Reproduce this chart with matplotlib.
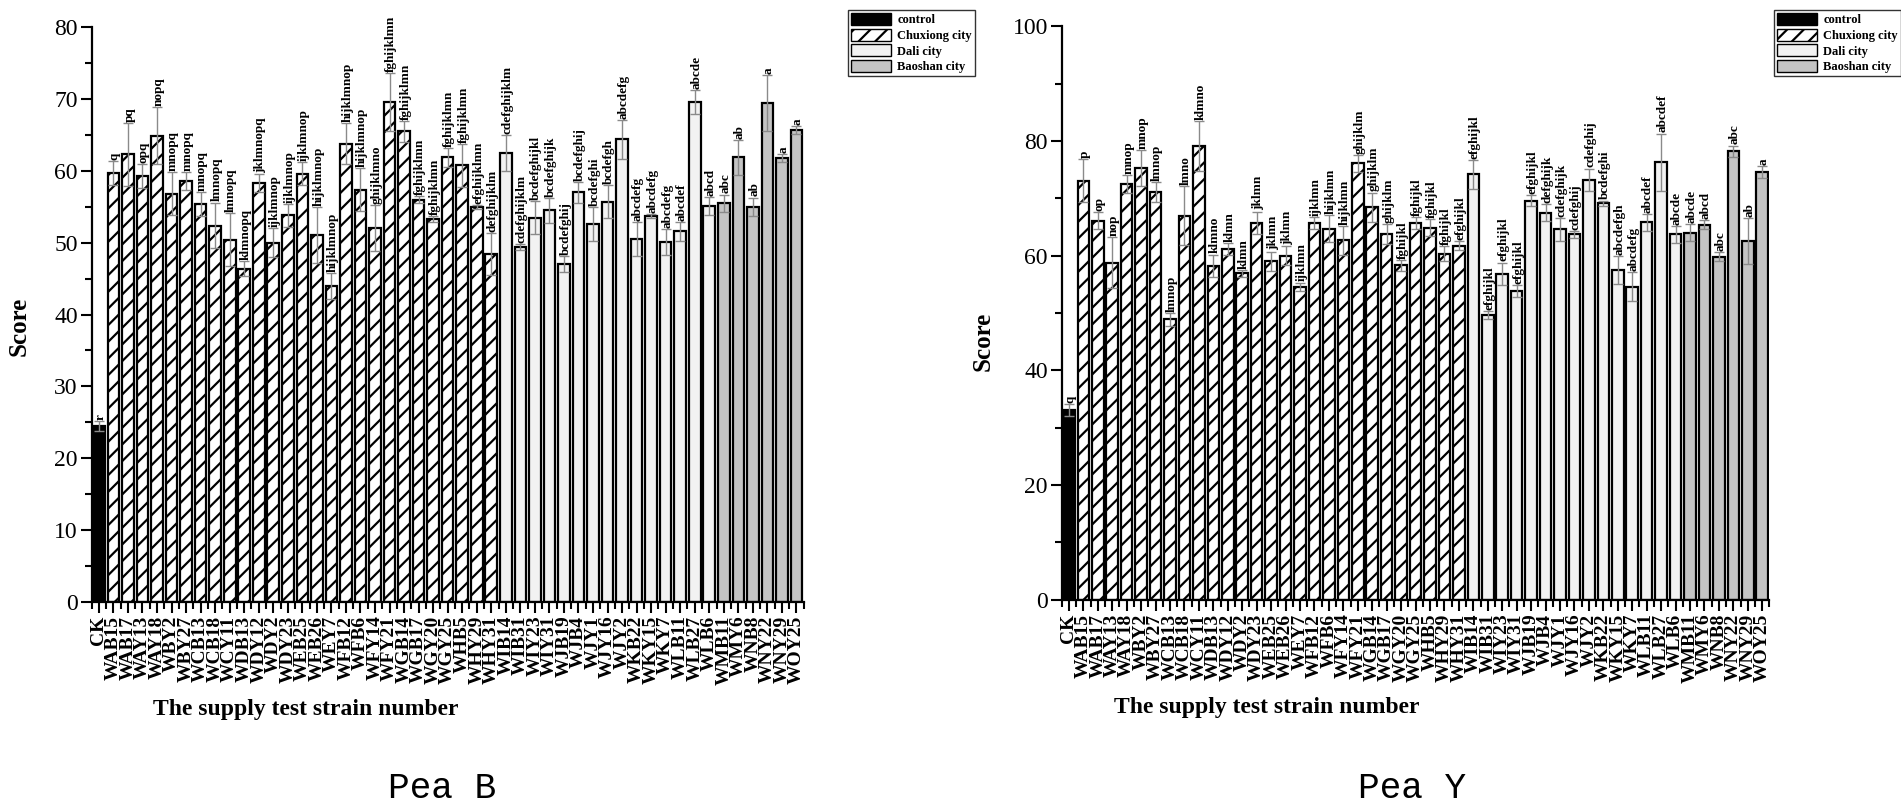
import numpy as np
import matplotlib.pyplot as plt
from matplotlib.patches import Patch
from matplotlib.ticker import MultipleLocator

# strain numbers (same order in both panels)
strains = ['CK', 'WAB15', 'WAB17', 'WAY13', 'WAY18', 'WBY2', 'WBY27', 'WCB13', 'WCB18',
           'WCY11', 'WDB13', 'WDY12', 'WDY2', 'WDY23', 'WEB25', 'WEB26', 'WEY7', 'WFB12',
           'WFB6', 'WFY14', 'WFY21', 'WGB14', 'WGB17', 'WGY20', 'WGY25', 'WHB5', 'WHY29',
           'WHY31', 'WIB14', 'WIB31', 'WIY23', 'WIY31', 'WJB19', 'WJB4', 'WJY1', 'WJY16',
           'WJY2', 'WKB22', 'WKY15', 'WKY7', 'WLB11', 'WLB27', 'WLB6', 'WMB11', 'WMY6',
           'WNB8', 'WNY22', 'WNY29', 'WOY25']
groups = ['control'] + ['Chuxiong city'] * 27 + ['Dali city'] * 15 + ['Baoshan city'] * 6

# Pea B
score_b = [24.5, 59.7, 62.3, 59.3, 64.9, 56.8, 58.6, 55.4, 52.4, 50.4, 46.4, 58.3, 50.0,
           53.8, 59.6, 51.1, 44.0, 63.8, 57.4, 52.0, 69.6, 65.5, 56.0, 53.3, 61.9, 60.8,
           55.0, 48.4, 62.5, 49.4, 53.5, 54.5, 47.0, 57.0, 52.6, 55.7, 64.4, 50.5, 53.7,
           50.1, 51.6, 69.6, 55.1, 55.5, 61.9, 55.0, 69.4, 61.8, 65.7]
err_b = [0.7, 1.7, 4.4, 1.7, 4.0, 3.0, 1.2, 1.7, 3.2, 3.7, 1.1, 1.3, 2.0, 1.6, 1.6, 3.9,
         1.8, 2.9, 3.0, 3.2, 4.0, 1.4, 0.5, 0.4, 1.3, 3.0, 0.3, 2.9, 2.5, 0.4, 2.3, 1.7,
         1.1, 1.5, 2.4, 2.3, 2.7, 2.4, 0.3, 1.8, 1.3, 1.7, 1.3, 1.2, 2.4, 1.3, 3.9, 0.6, 0.5]
sig_b = ['r', 'q', 'pq', 'opq', 'nopq', 'mnopq', 'mnopq', 'mnopq', 'lmnopq', 'lmnopq',
         'klmnopq', 'jklmnopq', 'ijklmnop', 'ijklmnop', 'ijklmnop', 'hijklmnop', 'hijklmnop',
         'hijklmnop', 'hijklmnop', 'ghijklmno', 'fghijklmn', 'fghijklmn', 'fghijklmn',
         'fghijklmn', 'fghijklmn', 'fghijklmn', 'efghijklmn', 'defghijklm', 'cdefghijklm',
         'cdefghijklm', 'bcdefghijkl', 'bcdefghijk', 'bcdefghij', 'bcdefghij', 'bcdefghi',
         'bcdefgh', 'abcdefg', 'abcdefg', 'abcdefg', 'abcdefg', 'abcdef', 'abcde', 'abcd',
         'abc', 'ab', 'ab', 'a', 'a', 'a']

# Pea Y
score_y = [33.1, 73.1, 66.1, 58.8, 72.5, 75.3, 71.1, 48.9, 67.0, 79.1, 58.2, 61.2, 56.9,
           65.7, 59.0, 60.0, 54.6, 65.7, 64.7, 62.7, 76.1, 68.4, 63.8, 58.3, 65.7, 64.9,
           60.3, 61.7, 74.2, 49.6, 56.8, 53.8, 69.6, 67.5, 64.6, 63.7, 73.2, 69.1, 57.5,
           54.6, 65.8, 76.3, 63.7, 64.0, 65.4, 59.8, 78.2, 62.6, 74.6]
err_y = [1.0, 3.7, 1.5, 4.5, 1.5, 3.1, 1.7, 1.1, 5.2, 4.4, 2.0, 1.0, 0.6, 2.0, 1.7, 1.7,
         0.7, 1.1, 2.4, 2.5, 1.5, 2.6, 1.7, 1.0, 1.1, 1.5, 1.3, 0.8, 2.5, 0.7, 2.0, 1.0,
         1.0, 1.5, 2.0, 0.6, 2.0, 0.5, 2.5, 2.5, 1.5, 5.0, 1.5, 1.5, 0.8, 0.8, 1.0, 4.0, 1.0]
sig_y = ['q', 'p', 'op', 'nop', 'mnop', 'mnop', 'lmnop', 'lmnop', 'lmno', 'klmno', 'klmno',
         'klmn', 'klmn', 'jklmn', 'jklmn', 'jklmn', 'ijklmn', 'ijklmn', 'hijklmn', 'hijklmn',
         'ghijklm', 'ghijklm', 'ghijklm', 'fghijkl', 'fghijkl', 'fghijkl', 'fghijkl',
         'efghijkl', 'efghijkl', 'efghijkl', 'efghijkl', 'efghijkl', 'efghijkl', 'defghijk',
         'cdefghijk', 'cdefghij', 'cdefghij', 'bcdefghi', 'abcdefgh', 'abcdefg', 'abcdef',
         'abcdef', 'abcde', 'abcde', 'abcd', 'abc', 'abc', 'ab', 'a']

fills = {'control': 'black', 'Chuxiong city': 'white', 'Dali city': '#f2f2f2',
         'Baoshan city': '#c4c4c4'}
hatches = {'control': '', 'Chuxiong city': '//', 'Dali city': '', 'Baoshan city': ''}

serif = 'Liberation Serif'
plt.rcParams['hatch.linewidth'] = 1.6


def draw_panel(ax, score, err, sig, ymax, major, minor):
    x = np.arange(len(strains))
    bars = ax.bar(x, score, width=0.8, color=[fills[g] for g in groups],
                  edgecolor='black', linewidth=1.6, zorder=2)
    for b, g in zip(bars, groups):
        b.set_hatch(hatches[g])
    ax.errorbar(x, score, yerr=err, fmt='none', ecolor='#8a8a8a', elinewidth=1,
                capsize=3.5, capthick=1, zorder=3)
    for i in range(len(x)):
        ax.text(x[i] + 0.1, score[i] + err[i] + ymax * 0.002, sig[i], rotation=90,
                ha='center', va='bottom', fontsize=9.5, fontweight='bold', family=serif)
    ax.set_xlim(-0.45, 48.5)
    ax.set_ylim(0, ymax)
    ax.set_xticks(x)
    ax.set_xticklabels(strains, rotation=90, fontsize=14, fontweight='bold', family=serif)
    ax.set_xticks(np.arange(-0.5, 49, 1), minor=True)
    ax.yaxis.set_major_locator(MultipleLocator(major))
    ax.yaxis.set_minor_locator(MultipleLocator(minor))
    for lab in ax.get_yticklabels():
        lab.set_fontsize(17)
        lab.set_family(serif)
    ax.tick_params(axis='both', which='major', length=8, width=1.5, direction='out', pad=2)
    ax.tick_params(axis='both', which='minor', length=5, width=1.5, direction='out')
    ax.spines['top'].set_visible(False)
    ax.spines['right'].set_visible(False)
    ax.spines['left'].set_linewidth(1.6)
    ax.spines['bottom'].set_linewidth(1.6)
    ax.set_ylabel('Score', fontsize=18, fontweight='bold', family=serif)
    ax.set_xlabel('The supply test strain number', fontsize=17, fontweight='bold', family=serif)


fig = plt.figure(figsize=(19.01, 8.09), dpi=100)
ax1 = fig.add_axes([0.0482, 0.2562, 0.3746, 0.7100])
ax2 = fig.add_axes([0.5585, 0.2587, 0.3723, 0.7088])

draw_panel(ax1, score_b, err_b, sig_b, 80, 10, 5)
draw_panel(ax2, score_y, err_y, sig_y, 100, 20, 10)
ax1.yaxis.set_label_coords(-0.085, 0.48)
ax2.yaxis.set_label_coords(-0.095, 0.45)
ax1.xaxis.set_label_coords(0.30, -0.17)
ax2.xaxis.set_label_coords(0.29, -0.17)

handles = [Patch(facecolor=fills[g], edgecolor='black', hatch=hatches[g], label=g)
           for g in ['control', 'Chuxiong city', 'Dali city', 'Baoshan city']]
for xr in [975 / 1901, 1.0]:
    fig.legend(handles=handles, loc='upper right', bbox_to_anchor=(xr, 0.988),
               prop={'family': serif, 'weight': 'bold', 'size': 9}, frameon=True,
               fancybox=False, edgecolor='black', borderpad=0.25, labelspacing=0.2,
               handlelength=3.2, handleheight=1.1, handletextpad=0.5, borderaxespad=0)

fig.text(442 / 1901, 1 - 788 / 809, 'Pea B', fontsize=26, family='Liberation Mono',
         ha='center', va='center')
fig.text(1412 / 1901, 1 - 788 / 809, 'Pea Y', fontsize=26, family='Liberation Mono',
         ha='center', va='center')

fig.savefig('out.png', dpi=100)
